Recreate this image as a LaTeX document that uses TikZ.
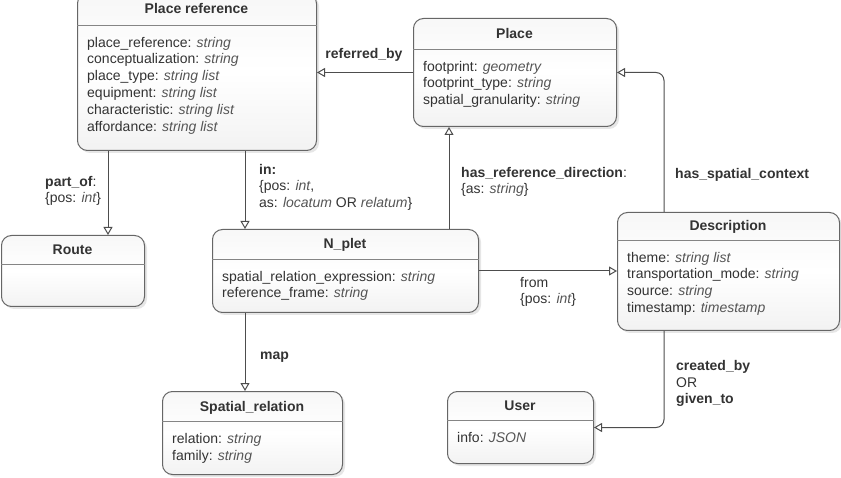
\documentclass[tikz,border=0pt]{standalone}
\usepackage{fontspec}
\setmainfont{Liberation Sans}
\usetikzlibrary{shadows,arrows.meta,calc}
\definecolor{bline}{HTML}{666666}
\definecolor{txt}{HTML}{333333}
\definecolor{valc}{HTML}{555555}
\definecolor{connc}{HTML}{4D4D4D}
\newcommand{\val}[1]{{\itshape\color{valc}#1}}
\newcommand{\fl}{\rule{0pt}{11pt}}
% #1 name, #2 x0, #3 top, #4 x1, #5 separator y, #6 bottom, #7 title, #8 attributes
\newcommand{\umlbox}[8]{%
  \pgfmathsetmacro\umlbw{#4-#2}%
  \pgfmathsetmacro\umlbh{#6-#3}%
  \node[clsbox, minimum width=\umlbw pt, minimum height=\umlbh pt, anchor=north west] (#1) at (#2,#3) {};
  \draw[sepline] (#1.west |- 0,#5) -- (#1.east |- 0,#5);
  \node[clstitle, anchor=base] (#1-t) at ({(#2+#4)/2},{(#3+#5)/2+5}) {#7};
  \node[clsattr, anchor=north west] (#1-a) at ({#2+10},{#5+11}) {\fl#8};
}
\begin{document}
\begin{tikzpicture}[x=1pt,y=-1pt,
  every node/.style={font=\fontsize{14}{16.8}\selectfont, text=txt},
  clsbox/.style={draw=bline, line width=1pt, rounded corners=10pt, top color=black!3, bottom color=black!5, middle color=white,
    drop shadow={shadow xshift=2.5pt, shadow yshift=-2.5pt, opacity=0.2}, inner sep=0pt},
  sepline/.style={draw=bline!80, line width=0.8pt},
  clstitle/.style={font=\fontsize{14}{16.8}\selectfont\bfseries, inner sep=0pt},
  clsattr/.style={align=left, inner sep=0pt},
  lbl/.style={align=left, inner sep=0pt, anchor=north west},
  conn/.style={draw=connc, line width=1pt, -{Triangle[width=9pt,length=8pt,fill=white,line width=1pt]}},
]
\useasboundingbox (0,0) rectangle (841,478);

\umlbox{pref}{77}{-7}{316}{25}{150}{Place reference}{place\_reference: \val{string}\\conceptualization: \val{string}\\place\_type: \val{string list}\\equipment: \val{string list}\\characteristic: \val{string list}\\affordance: \val{string list}}
\umlbox{place}{413}{18}{616}{49}{126}{Place}{footprint: \val{geometry}\\footprint\_type: \val{string}\\spatial\_granularity: \val{string}}
\umlbox{desc}{617}{212}{839}{240}{330}{Description}{theme: \val{string list}\\transportation\_mode: \val{string}\\source: \val{string}\\timestamp: \val{timestamp}}
\umlbox{route}{1}{235}{144}{264}{306}{Route}{}
\umlbox{nplet}{212}{229}{478}{259}{312}{N\_plet}{spatial\_relation\_expression: \val{string}\\reference\_frame: \val{string}}
\umlbox{srel}{162}{391}{342}{421}{474}{Spatial\_relation}{relation: \val{string}\\family: \val{string}}
\umlbox{user}{447}{391}{593}{420}{463}{User}{info: \val{JSON}}

% connectors
\draw[conn] (place.west) -- (place.west -| pref.east);
\coordinate (sc) at ($(desc.north west)+(47,0)$);
\draw[conn, rounded corners=8pt] (sc) |- (place.east);
\coordinate (hr) at ($(nplet.north west)+(237,0)$);
\draw[conn] (hr) -- (hr |- place.south);
\coordinate (inx) at ($(nplet.north west)+(33,0)$);
\draw[conn] (inx |- pref.south) -- (inx);
\coordinate (po) at ($(route.north west)+(107,0)$);
\draw[conn] (po |- pref.south) -- (po);
\draw[conn] (nplet.east) -- (nplet.east -| desc.west);
\coordinate (mp) at ($(srel.north west)+(83,0)$);
\draw[conn] (mp |- nplet.south) -- (mp);
\coordinate (cb) at ($(desc.south west)+(47,0)$);
\draw[conn, rounded corners=8pt] (cb) |- (user.east);

% labels (top = first baseline - 11)
\node[lbl, anchor=base] (l-ref) at (364,59) {\textbf{referred\_by}};
\node[lbl] (l-sc) at (675,167) {\fl\textbf{has\_spatial\_context}};
\node[lbl] (l-hr) at (461,166) {\fl\textbf{has\_reference\_direction}:\\\{as: \val{string}\}};
\node[lbl] (l-in) at (259,163) {\fl\textbf{in:}\\\{pos: \val{int},\\as: \val{locatum} OR \val{relatum}\}};
\node[lbl] (l-po) at (45,175) {\fl\textbf{part\_of}:\\\{pos: \val{int}\}};
\node[lbl] (l-from) at (520,276) {\fl from\\\{pos: \val{int}\}};
\node[lbl] (l-map) at (260,348) {\fl\textbf{map}};
\node[lbl] (l-cb) at (676,359) {\fl\textbf{created\_by}\\OR\\\textbf{given\_to}};
\end{tikzpicture}
\end{document}
